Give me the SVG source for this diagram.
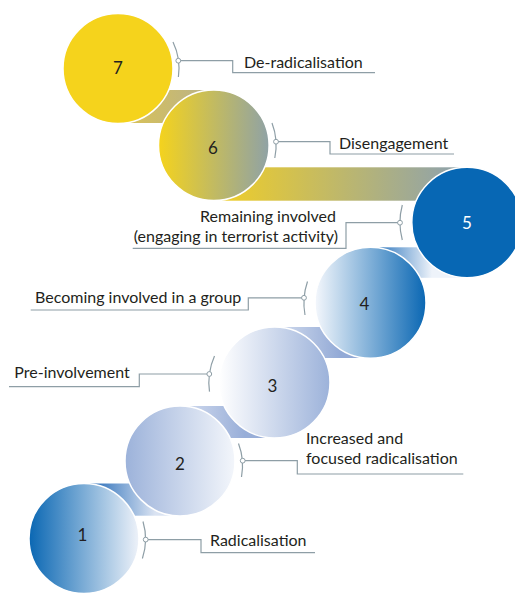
<svg xmlns="http://www.w3.org/2000/svg" width="515" height="593" viewBox="0 0 515 593">
<style>
.lbl{font-family:Lato,"Open Sans","Liberation Sans",sans-serif;font-size:16px;fill:#231f20}
.num{font-family:Lato,"Open Sans","Liberation Sans",sans-serif;font-size:17px;fill:#231f20;text-anchor:middle}
.ldr{fill:none;stroke:#8e9ea6;stroke-width:1.2}
.dot{fill:#fff;stroke:#8e9ea6;stroke-width:1}
.node{stroke:#fff;stroke-width:1.5}
</style>
<defs>
<linearGradient id="g6" x1="0" y1="0" x2="1" y2="0"><stop offset="0" stop-color="#f5d31c"/><stop offset="1" stop-color="#8fa2a6"/></linearGradient>
<linearGradient id="g4" x1="0" y1="0" x2="1" y2="0"><stop offset="0" stop-color="#f4f7fc"/><stop offset="1" stop-color="#0a67b3"/></linearGradient>
<linearGradient id="g3" x1="0" y1="0" x2="1" y2="0"><stop offset="0" stop-color="#ffffff"/><stop offset="1" stop-color="#9cb2da"/></linearGradient>
<linearGradient id="g2" x1="0" y1="0" x2="1" y2="0"><stop offset="0" stop-color="#9cb2da"/><stop offset="1" stop-color="#f3f6fb"/></linearGradient>
<linearGradient id="g1" x1="0" y1="0" x2="1" y2="0"><stop offset="0" stop-color="#0a67b3"/><stop offset="1" stop-color="#eef2f9"/></linearGradient>
<linearGradient id="b67" gradientUnits="userSpaceOnUse" x1="118" y1="0" x2="214" y2="0"><stop offset="0" stop-color="#ddc451"/><stop offset="1" stop-color="#b7b18c"/></linearGradient>
<linearGradient id="b56" gradientUnits="userSpaceOnUse" x1="214" y1="0" x2="445" y2="0"><stop offset="0" stop-color="#f2cf24"/><stop offset="1" stop-color="#93a4a6"/></linearGradient>
<linearGradient id="b45" gradientUnits="userSpaceOnUse" x1="372" y1="0" x2="432" y2="0"><stop offset="0" stop-color="#1e6cb8"/><stop offset="1" stop-color="#eef3fa"/></linearGradient>
<linearGradient id="b34" gradientUnits="userSpaceOnUse" x1="275" y1="0" x2="340" y2="0"><stop offset="0" stop-color="#d5deef"/><stop offset="1" stop-color="#93aad6"/></linearGradient>
<linearGradient id="b23" gradientUnits="userSpaceOnUse" x1="182" y1="0" x2="245" y2="0"><stop offset="0" stop-color="#d3dcef"/><stop offset="1" stop-color="#98aed8"/></linearGradient>
<linearGradient id="b12" gradientUnits="userSpaceOnUse" x1="92" y1="0" x2="155" y2="0"><stop offset="0" stop-color="#2a6eb9"/><stop offset="1" stop-color="#dae3f2"/></linearGradient>
</defs>
<rect width="515" height="593" fill="#fff"/>
<g id="connectors">
<rect x="118" y="90" width="96" height="33" fill="url(#b67)"/>
<rect x="213" y="167.3" width="254" height="33.4" fill="url(#b56)"/>
<rect x="370" y="247.3" width="97" height="30.5" fill="url(#b45)"/>
<rect x="274" y="327" width="97" height="31" fill="url(#b34)"/>
<rect x="180" y="406" width="95" height="32" fill="url(#b23)"/>
<rect x="84" y="483.5" width="96" height="32.2" fill="url(#b12)"/>
</g>
<g id="node7">
<circle class="node" cx="118" cy="68.5" r="55" fill="#f5d31c"/>
<text class="num" x="118" y="74">7</text>
<path class="ldr" d="M173 42A61 61 0 0 1 178.4 77"/>
<polyline class="ldr" points="178.3,60.7 232.7,60.7 232.7,72.7 375,72.7"/>
<circle class="dot" cx="178.3" cy="60.7" r="2.4"/>
<text class="lbl" x="244" y="68.3">De-radicalisation</text>
</g>
<g id="node6">
<circle class="node" cx="213.8" cy="145.3" r="55.3" fill="url(#g6)"/>
<text class="num" x="213" y="154">6</text>
<path class="ldr" d="M272 123A62.3 62.3 0 0 1 274.8 158"/>
<polyline class="ldr" points="276,141.7 330,141.7 330,154 454,154"/>
<circle class="dot" cx="276" cy="141.7" r="2.4"/>
<text class="lbl" x="339" y="149.3">Disengagement</text>
</g>
<g id="node5">
<circle class="node" cx="467" cy="222.5" r="55.2" fill="#0767b4"/>
<text class="num" x="467" y="229.3" fill="#fff" style="fill:#fff">5</text>
<path class="ldr" d="M402.3 205A67 67 0 0 0 402.3 240"/>
<polyline class="ldr" points="400,222.7 346,222.7 346,248.3 132.7,248.3"/>
<circle class="dot" cx="400" cy="222.7" r="2.4"/>
<text class="lbl" x="336" y="221.7" text-anchor="end">Remaining involved</text>
<text class="lbl" x="338" y="241.5" text-anchor="end">(engaging in terrorist activity)</text>
</g>
<g id="node4">
<circle class="node" cx="370.5" cy="302.7" r="55.5" fill="url(#g4)"/>
<text class="num" x="364.5" y="310">4</text>
<path class="ldr" d="M307.5 281.5A66.7 66.7 0 0 0 305 315"/>
<polyline class="ldr" points="304,297.8 248.3,297.8 248.3,310 30.7,310"/>
<circle class="dot" cx="304" cy="297.8" r="2.4"/>
<text class="lbl" x="35" y="302.7">Becoming involved in a group</text>
</g>
<g id="node3">
<circle class="node" cx="274.5" cy="382.5" r="55.5" fill="url(#g3)"/>
<text class="num" x="272.5" y="391.5">3</text>
<path class="ldr" d="M214.5 356A65.8 65.8 0 0 0 209.5 391.7"/>
<polyline class="ldr" points="209.3,374 139.3,374 139.3,386.7 9,386.7"/>
<circle class="dot" cx="209.3" cy="374" r="2.4"/>
<text class="lbl" x="14.3" y="377.7">Pre-involvement</text>
</g>
<g id="node2">
<circle class="node" cx="180" cy="461" r="55" fill="url(#g2)"/>
<text class="num" x="180" y="469.5">2</text>
<path class="ldr" d="M238.5 443.5A62.7 62.7 0 0 1 241.5 477"/>
<polyline class="ldr" points="242.7,460.7 297.3,460.7 297.3,474 463.3,474"/>
<circle class="dot" cx="242.7" cy="460.7" r="2.4"/>
<text class="lbl" x="306" y="444.3">Increased and</text>
<text class="lbl" x="306" y="464.3">focused radicalisation</text>
</g>
<g id="node1">
<circle class="node" cx="84" cy="538.5" r="55" fill="url(#g1)"/>
<text class="num" x="82.5" y="541">1</text>
<path class="ldr" d="M143 521.5A61.7 61.7 0 0 1 142.4 558.5"/>
<polyline class="ldr" points="145.7,539.6 201,539.6 201,552.7 315,552.7"/>
<circle class="dot" cx="145.7" cy="539.6" r="2.4"/>
<text class="lbl" x="210" y="546">Radicalisation</text>
</g>
</svg>
